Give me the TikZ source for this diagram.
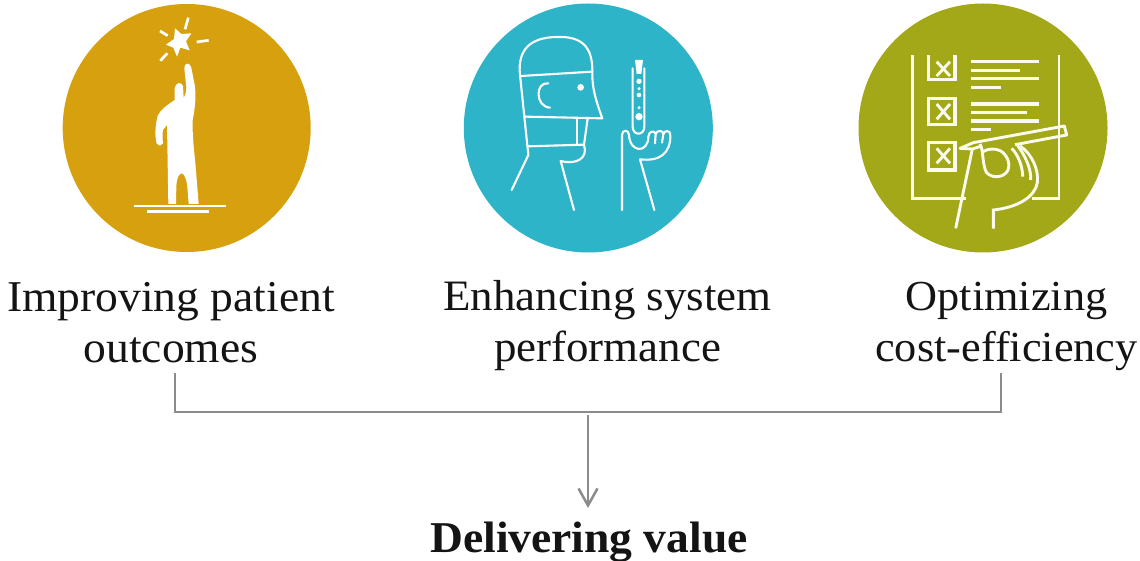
\documentclass[tikz,border=0pt]{standalone}
\usepackage{fontspec}
\setmainfont[FakeStretch=1.035]{Liberation Serif}
\usetikzlibrary{arrows.meta,calc}
\definecolor{goldc}{HTML}{D7A00F}
\definecolor{tealc}{HTML}{2DB4C9}
\definecolor{olivec}{HTML}{A2A817}
\definecolor{creamc}{HTML}{FBFAEF}
\definecolor{linec}{HTML}{8C8C8C}
\tikzset{
  x=1pt,y=-1pt,
  disc/.style={circle,inner sep=0pt,minimum size=#1},
  lab/.style={align=center,font=\fontsize{44}{51}\selectfont,text=black!92,inner sep=0pt},
  conn/.style={draw=linec,line width=2.5pt},
  iconscope/.style={x=0.33333pt,y=-0.33333pt},
  thin1/.style={draw=white,line width=2.1pt,line join=round,line cap=round},
  thick3/.style={draw=creamc,line width=2.9pt,line join=miter},
  bar3/.style={draw=creamc,line width=3.2pt}
}
\begin{document}
\begin{tikzpicture}
\useasboundingbox (0,0) rectangle (1140,561);
\fill[white] (0,0) rectangle (1140,561);
\node[disc=248pt,fill=goldc] (c1) at (186.7,128) {};
\node[disc=249pt,fill=tealc] (c2) at (588.3,128) {};
\node[disc=249pt,fill=olivec] (c3) at (983,128) {};

% icon 1
\begin{scope}[shift={(60pt,0pt)},iconscope]
\fill[white] (325,612) -- (323,490) -- (321,375) -- (309,390) .. controls (307,400) and (307,415) .. (309,430) -- (300,437) -- (290,431) .. controls (285,410) and (284,385) .. (293,347) .. controls (303,328) and (320,316) .. (344,300) -- (344,265) .. controls (347,247) and (364,244) .. (369,258) -- (371,295) .. controls (376,285) and (379,275) .. (379,262) -- (373,205) .. controls (372,187) and (390,186) .. (394,203) -- (405,260) .. controls (408,290) and (406,320) .. (398,360) .. controls (397,400) and (400,430) .. (407,500) -- (416,612) -- (386,612) -- (382,560) .. controls (379,535) and (373,522) .. (365,520) .. controls (356,522) and (350,535) .. (349,560) -- (348,612) -- cycle;
\fill[white] (345,85) -- (364,102) -- (394,100) -- (378,124) -- (389,151) -- (361,143) -- (351,170) -- (340,143) -- (318,134) -- (342,117) -- cycle;
\draw[white,line width=2.7pt] (385,53) -- (375,88);
\draw[white,line width=2.7pt] (300,93) -- (323,107);
\draw[white,line width=2.7pt] (410,126) -- (446,121);
\draw[white,line width=2.7pt] (301,182) -- (322,160);
\draw[white,line width=2.8pt] (222,618) -- (498,618);
\draw[white,line width=2.8pt] (262,635) -- (446,635);
\end{scope}

% icon 2
\begin{scope}[shift={(460pt,0pt)},iconscope,thin1]
\draw[thin1] (155,570) -- (205,465) -- (180,225) .. controls (172,150) and (210,112) .. (290,111) .. controls (365,108) and (398,140) .. (397,215) .. controls (396,260) and (405,295) .. (427,355) -- (197,350);
\draw[thin1] (183,228) -- (397,215);
\draw[thin1] (204,439) -- (372,434);
\draw[thin1] (352,355) -- (352,434);
\draw[thin1] (383,355) -- (372,434) .. controls (385,475) and (350,495) .. (302,483) -- (342,630);
\draw[thin1] (265,250) .. controls (225,245) and (225,320) .. (270,323);
\fill[white] (362,262) circle[radius=10];
\draw[thin1] (518,205) -- (518,380) .. controls (518,408) and (553,408) .. (553,380) -- (553,205);
\fill[white] (525,180) -- (549,180) -- (544,222) -- (530,222) -- cycle;
\fill[white] (537,244) circle[radius=8];
\fill[white] (537,266) circle[radius=5];
\fill[white] (537,285) circle[radius=7];
\fill[white] (537,323) circle[radius=5];
\fill[white] (537,350) circle[radius=11];
\draw[thin1] (486,630) -- (486,405) .. controls (486,388) and (507,388) .. (507,405) .. controls (510,460) and (565,460) .. (565,410) .. controls (566,392) and (585,390) .. (587,402) -- (585,430);
\draw[thin1] (587,402) .. controls (590,390) and (610,390) .. (610,402) -- (606,428);
\draw[thin1] (610,402) .. controls (613,390) and (632,390) .. (631,405) .. controls (632,460) and (600,485) .. (540,478) -- (583,630);
\end{scope}

% icon 3
\begin{scope}[shift={(855pt,0pt)},iconscope]
\draw[thick3] (173,165) -- (173,595) -- (332,595);
\draw[thick3] (530,595) -- (612,595) -- (612,382);
\draw[thick3] (612,165) -- (612,380);
\draw[bar3] (220,165) -- (220,238) -- (300,238) -- (300,165);
\draw[bar3] (220,295) rectangle (300,373);
\draw[bar3] (220,428) rectangle (300,510);
\draw[thick3] (245,185) -- (285,228);
\draw[thick3] (285,185) -- (245,228);
\draw[thick3] (245,312) -- (285,358);
\draw[thick3] (285,312) -- (245,358);
\draw[thick3] (245,445) -- (285,490);
\draw[thick3] (285,445) -- (245,490);
\foreach \y/\e in {185/553,211/495,236/553,262/438,312/553,338/515,363/553,388/407}
  \draw[bar3] (347,\y) -- (\e,\y);
\draw[thick3,line join=round] (480,434) -- (635,405) -- (628,378) -- (355,428) -- (315,445) -- (352,447) -- (380,438);
\draw[thick3] (302,685) -- (352,447);
\draw[thick3] (375,432) .. controls (385,445) and (382,500) .. (395,518) .. controls (410,535) and (445,535) .. (458,512) .. controls (468,490) and (455,462) .. (435,452) .. controls (420,445) and (400,445) .. (384,455);
\draw[thick3] (470,445) .. controls (490,465) and (503,500) .. (503,530);
\draw[thick3] (488,437) .. controls (510,465) and (530,510) .. (527,540);
\draw[thick3] (495,438) .. controls (530,460) and (552,510) .. (547,548) .. controls (540,590) and (490,622) .. (415,630) -- (415,686);
\end{scope}

% labels
\node[lab,anchor=base] (t1) at (171,362) {Improving patient\\outcomes};
\node[lab,anchor=base,font=\fontsize{43.4}{51}\selectfont] (t2) at (607.5,361) {Enhancing system\\performance};
\node[lab,anchor=base,font=\fontsize{42.8}{51}\selectfont] (t3) at (1006.5,361) {Optimizing\\cost-efficiency};
\node[lab,anchor=base,font=\fontsize{44}{48}\selectfont\bfseries] (v) at (589,552) {Delivering value};

\coordinate (ja) at ($(t1.base)+(4,11)$);
\coordinate (jb) at ($(t3.base)+(-5.5,12)$);
\coordinate (tip) at ($(v.base)+(-1,-44)$);
\coordinate (bus) at ($(ja)+(0,39)$);
\draw[conn] (ja) -- (bus) -| (jb);
\draw[conn,-{Straight Barb[length=17pt,width=19pt,line width=2.5pt]}] (tip |- 0,415) -- (tip);
\end{tikzpicture}
\end{document}
